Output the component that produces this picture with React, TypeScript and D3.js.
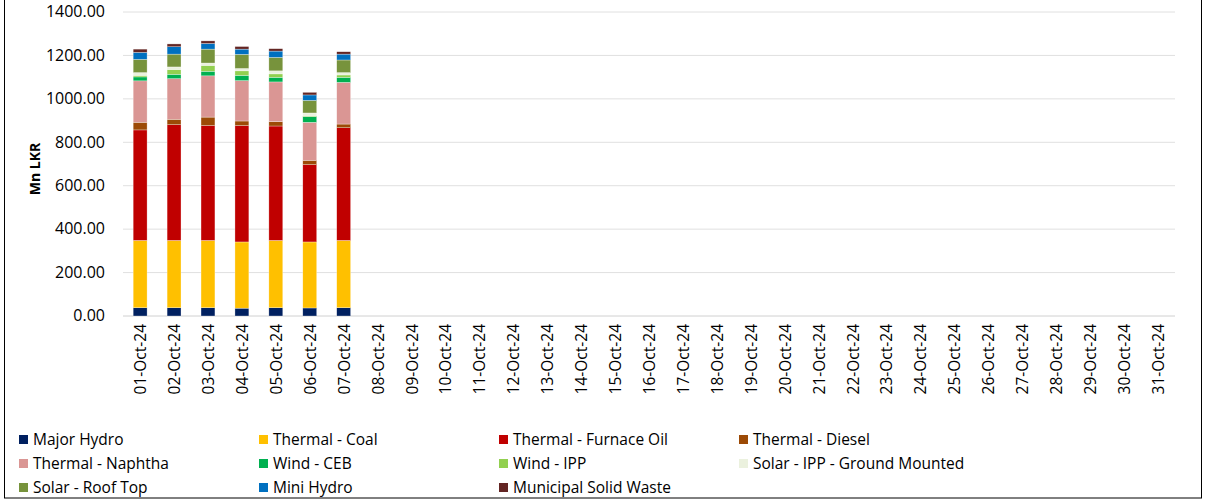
import * as d3 from 'd3';

const days = d3.range(1, 32).map(d => `${String(d).padStart(2, '0')}-Oct-24`);

const seriesNames = [
  'Major Hydro', 'Thermal - Coal', 'Thermal - Furnace Oil', 'Thermal - Diesel',
  'Thermal - Naphtha', 'Wind - CEB', 'Wind - IPP', 'Solar - IPP - Ground Mounted',
  'Solar - Roof Top', 'Mini Hydro', 'Municipal Solid Waste',
];
const seriesColors = [
  '#002060', '#FFC000', '#C00000', '#9C4A06',
  '#DA9694', '#00B050', '#92D050', '#EBF1DE',
  '#77933C', '#0070C0', '#632523',
];

// values for 01..07 Oct (rest of month empty)
const majorHydro = [38, 38, 38, 36, 38, 37, 38];
const thermalCoal = [310, 310, 310, 305, 310, 304, 310];
const furnaceOil = [509, 533, 529, 536, 527, 356, 519];
const diesel = [35, 25, 39, 21, 20, 20, 17];
const naphtha = [191, 187, 190, 186, 183, 175, 192];
const windCEB = [18, 20, 21, 24, 21, 26, 23];
const windIPP = [7, 22, 27, 21, 16, 3, 11];
const solarGround = [13, 12, 11, 11, 14, 14, 11];
const solarRoof = [61, 59, 64, 65, 62, 58, 58];
const miniHydro = [32, 34, 26, 24, 29, 25, 27];
const msw = [15, 13, 12, 12, 11, 12, 11];

const yTicks = [0, 200, 400, 600, 800, 1000, 1200, 1400];

const seriesValues = [majorHydro, thermalCoal, furnaceOil, diesel, naphtha, windCEB,
  windIPP, solarGround, solarRoof, miniHydro, msw];

export default function App() {
  const width = 1205;
  const height = 503;
  const plotLeft = 123;
  const plotRight = 1175;
  const plotTop = 12;
  const plotBottom = 316;

  const x = d3.scaleBand<string>().domain(days).range([plotLeft, plotRight]).paddingInner(0.59).paddingOuter(0.3);
  const y = d3.scaleLinear().domain([0, 1400]).range([plotBottom, plotTop]);

  const rows = days.map((day, i) => {
    const r: Record<string, any> = { day };
    seriesNames.forEach((s, k) => { r[s] = seriesValues[k][i] ?? 0; });
    return r;
  });
  const stacked = d3.stack<Record<string, any>>().keys(seriesNames)(rows);

  const font = '"Open Sans", Lato, sans-serif';
  const legendCols = [19, 259, 499, 739];
  const legendRows = [440, 464, 488];

  return (
    <svg width={width} height={height} style={{ position: 'absolute', left: 0, top: 0 }} fontFamily={font}>
      <rect x={0} y={0} width={width} height={height} fill="#fff" />
      <rect x={4.5} y={-2} width={1197} height={500} fill="none" stroke="#000" strokeWidth={1} />
      {yTicks.map(t => (
        <g key={t}>
          <line x1={plotLeft} x2={plotRight} y1={y(t)} y2={y(t)} stroke={t === 0 ? '#d0d0d0' : '#e0e0e0'} strokeWidth={1} />
          <text x={105} y={y(t)} dy="0.33em" textAnchor="end" fontSize={16} fill="#000">{t.toFixed(2)}</text>
        </g>
      ))}
      <text transform={`translate(40,${(plotTop + plotBottom) / 2 + 5}) rotate(-90)`} textAnchor="middle" fontSize={14} fontWeight="bold">Mn LKR</text>
      {stacked.map((layer, k) => (
        <g key={layer.key} fill={seriesColors[k]}>
          {layer.map((d, i) => (d[1] - d[0] > 0 ? (
            <rect key={i} x={x(days[i])} y={y(d[1])} width={x.bandwidth()} height={y(d[0]) - y(d[1])}
              stroke="#fff" strokeWidth={0.5} strokeOpacity={0.6} />
          ) : null))}
        </g>
      ))}
      {days.map(d => (
        <text key={d} transform={`translate(${(x(d) ?? 0) + x.bandwidth() / 2 + 6},${plotBottom + 8}) rotate(-90)`}
          textAnchor="end" fontSize={15.5} fill="#000">{d}</text>
      ))}
      {seriesNames.map((s, k) => {
        const cx = legendCols[k % 4];
        const cy = legendRows[Math.floor(k / 4)];
        return (
          <g key={s}>
            <rect x={cx} y={cy - 5} width={9} height={9} fill={seriesColors[k]} />
            <text x={cx + 14} y={cy} dy="0.35em" fontSize={15.5} fill="#000">{s}</text>
          </g>
        );
      })}
    </svg>
  );
}
